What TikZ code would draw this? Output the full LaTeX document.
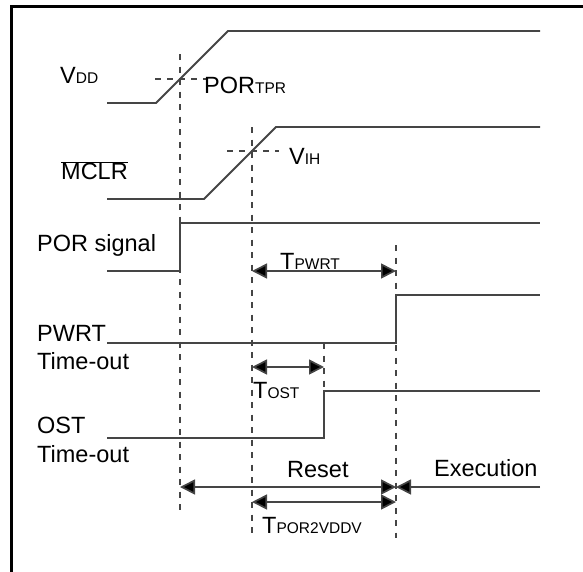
\documentclass[tikz,border=0pt]{standalone}
\usepackage{fontspec}
\setmainfont{Liberation Sans}
\usetikzlibrary{arrows.meta}
\definecolor{wavegray}{HTML}{454545}
\newcommand\lowtxt[1]{{\fontsize{15.5}{15.5}\selectfont #1}}
\begin{document}
\begin{tikzpicture}[x=1pt,y=-1pt,
  wave/.style={draw=wavegray, line width=1.8pt},
  guide/.style={draw=wavegray, line width=1.5pt, dash pattern=on 6pt off 6.5pt},
  hguide/.style={draw=wavegray, line width=1.3pt, dash pattern=on 5.5pt off 6.5pt},
  dimline/.style={draw=wavegray, line width=1.7pt},
  bothtips/.style={arrows={Triangle[length=15pt,width=15pt,fill=black]-Triangle[length=15pt,width=15pt,fill=black]}},
  endtip/.style={arrows={-Triangle[length=15pt,width=15pt,fill=black]}},
  lbl/.style={font=\fontsize{23.5}{23.5}\selectfont, inner sep=0pt, anchor=base west, text=black},
  frameline/.style={draw=black, line width=2.6pt}]
\useasboundingbox (0,0) rectangle (583,571);

% outer frame (only top and left edges fall inside the page)
\coordinate (fbl) at (11.5,575);
\coordinate (ftl) at (11.5,6.5);
\coordinate (ftr) at (590,6.5);
\draw[frameline] (fbl) -- (ftl) -- (ftr);

% VDD ramp
\coordinate (v0) at (107,103); \coordinate (v1) at (156,103);
\coordinate (v2) at (228,31);  \coordinate (v3) at (540,31);
\draw[wave] (v0) -- (v1) -- (v2) -- (v3);

% MCLR ramp
\coordinate (m0) at (107,199); \coordinate (m1) at (204,199);
\coordinate (m2) at (276,127); \coordinate (m3) at (540,127);
\draw[wave] (m0) -- (m1) -- (m2) -- (m3);

% POR signal
\coordinate (p0) at (107,271); \coordinate (p1) at (180,271);
\coordinate (p2) at (180,223); \coordinate (p3) at (540,223);
\draw[wave] (p0) -- (p1) -- (p2) -- (p3);

% PWRT time-out
\coordinate (w0) at (107,343); \coordinate (w1) at (396,343);
\coordinate (w2) at (396,295); \coordinate (w3) at (540,295);
\draw[wave] (w0) -- (w1) -- (w2) -- (w3);

% OST time-out
\coordinate (o0) at (107,438); \coordinate (o1) at (324,438);
\coordinate (o2) at (324,391); \coordinate (o3) at (540,391);
\draw[wave] (o0) -- (o1) -- (o2) -- (o3);

% dashed time markers
\coordinate (ga0) at (180,54);  \coordinate (ga1) at (180,510);
\coordinate (gb0) at (252,127); \coordinate (gb1) at (252,538);
\coordinate (gc0) at (396,245); \coordinate (gc1) at (396,538);
\coordinate (gd0) at (324,343); \coordinate (gd1) at (324,438);
\draw[guide] (ga0) -- (ga1);
\draw[guide] (gb0) -- (gb1);
\draw[guide] (gc0) -- (gc1);
\draw[guide] (gd0) -- (gd1);

% threshold crosshairs
\coordinate (ha0) at (155,79);  \coordinate (ha1) at (207,79);
\coordinate (hb0) at (227,151); \coordinate (hb1) at (279,151);
\draw[hguide] (ha0) -- (ha1);
\draw[hguide] (hb0) -- (hb1);

% timing intervals
\coordinate (tp0) at (252,271); \coordinate (tp1) at (396,271);
\coordinate (to0) at (252,367); \coordinate (to1) at (324,367);
\coordinate (r0) at (180,487);  \coordinate (r1) at (396,487);
\coordinate (e0) at (540,487);  \coordinate (e1) at (396,487);
\coordinate (d0) at (252,502);  \coordinate (d1) at (396,502);
\draw[dimline, bothtips] (tp0) -- (tp1);
\draw[dimline, bothtips] (to0) -- (to1);
\draw[dimline, bothtips] (r0) -- (r1);
\draw[dimline, endtip] (e0) -- (e1);
\draw[dimline, bothtips] (d0) -- (d1);

% labels
\node[lbl] (lvdd) at (60,83) {V\lowtxt{DD}};
\node[lbl] (lpor) at (204,93) {POR\lowtxt{TPR}};
\node[lbl] (lmclr) at (61,179) {MCLR};
\draw[draw=black, line width=1.4pt] (lmclr.north west) -- (lmclr.north east);
\node[lbl] (lvih) at (289,164) {V\lowtxt{IH}};
\node[lbl] (lporsig) at (37,251) {POR signal};
\node[lbl] (lpwrt) at (37,341) {PWRT};
\node[lbl] (lpwrtb) at (37,369) {Time-out};
\node[lbl] (ltpwrt) at (280,269) {T\lowtxt{PWRT}};
\node[lbl] (ltost) at (253,398) {T\lowtxt{OST}};
\node[lbl] (lost) at (37,433) {OST};
\node[lbl] (lostb) at (37,462) {Time-out};
\node[lbl] (lreset) at (287,477) {Reset};
\node[lbl] (lexec) at (434,476) {Execution};
\node[lbl] (ltpor) at (262,533) {T\lowtxt{POR2VDDV}};
\end{tikzpicture}
\end{document}
